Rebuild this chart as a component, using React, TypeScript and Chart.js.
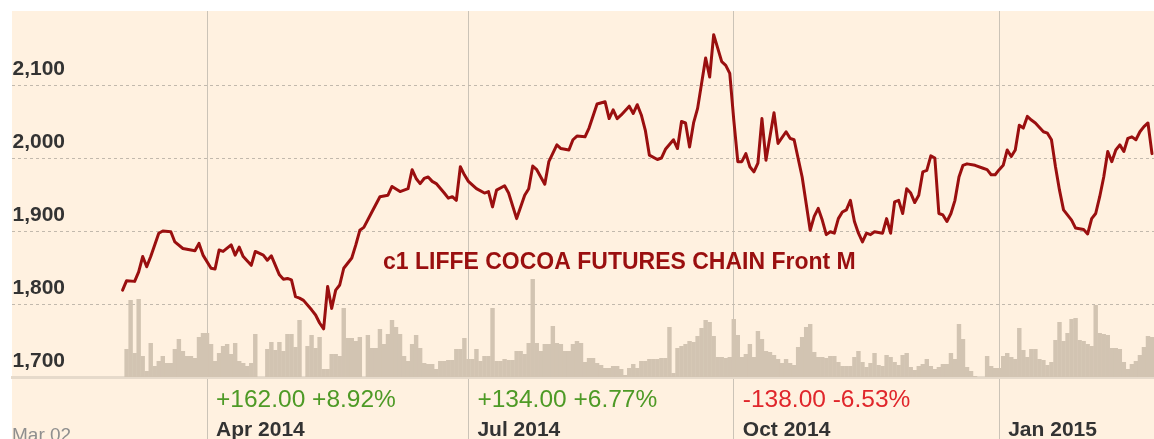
import React, { useEffect, useRef } from 'react';
import { Chart, registerables } from 'chart.js';

Chart.register(...registerables);

// ---- data ----
const firstDay = '2014-01-23';
const lastDay = '2015-02-24';

const priceDates = [
  '2014-03-03','2014-03-04','2014-03-06','2014-03-07','2014-03-10','2014-03-11','2014-03-12','2014-03-14','2014-03-17','2014-03-19',
  '2014-03-20','2014-03-24','2014-03-25','2014-03-27','2014-03-28','2014-03-31','2014-04-02','2014-04-03','2014-04-04','2014-04-07',
  '2014-04-09','2014-04-10','2014-04-11','2014-04-14','2014-04-16','2014-04-17','2014-04-21','2014-04-22','2014-04-23','2014-04-25',
  '2014-04-28','2014-04-29','2014-04-30','2014-05-01','2014-05-02','2014-05-05','2014-05-07','2014-05-08','2014-05-09','2014-05-12',
  '2014-05-13','2014-05-14','2014-05-15','2014-05-16','2014-05-19','2014-05-21','2014-05-22','2014-05-23','2014-05-26','2014-05-28',
  '2014-05-30','2014-06-03','2014-06-04','2014-06-06','2014-06-10','2014-06-11','2014-06-12','2014-06-13','2014-06-16','2014-06-17',
  '2014-06-18','2014-06-19','2014-06-23','2014-06-24','2014-06-25','2014-06-26','2014-06-27','2014-06-30','2014-07-01','2014-07-03',
  '2014-07-07','2014-07-08','2014-07-09','2014-07-10','2014-07-14','2014-07-15','2014-07-17','2014-07-21','2014-07-22','2014-07-23',
  '2014-07-24','2014-07-28','2014-07-29','2014-07-31','2014-08-01','2014-08-05','2014-08-06','2014-08-07','2014-08-11','2014-08-12',
  '2014-08-14','2014-08-18','2014-08-19','2014-08-20','2014-08-21','2014-08-22','2014-08-26','2014-08-27','2014-08-28','2014-08-29',
  '2014-09-01','2014-09-02','2014-09-04','2014-09-05','2014-09-08','2014-09-10','2014-09-11','2014-09-12','2014-09-15','2014-09-16',
  '2014-09-17','2014-09-18','2014-09-22','2014-09-23','2014-09-24','2014-09-26','2014-09-29','2014-09-30','2014-10-01','2014-10-02',
  '2014-10-03','2014-10-06','2014-10-07','2014-10-08','2014-10-09','2014-10-10','2014-10-13','2014-10-15','2014-10-16','2014-10-20',
  '2014-10-21','2014-10-22','2014-10-24','2014-10-28','2014-10-29','2014-10-30','2014-10-31','2014-11-03','2014-11-04','2014-11-05',
  '2014-11-06','2014-11-07','2014-11-10','2014-11-11','2014-11-12','2014-11-13','2014-11-14','2014-11-17','2014-11-18','2014-11-19',
  '2014-11-20','2014-11-21','2014-11-24','2014-11-25','2014-11-26','2014-11-27','2014-11-28','2014-12-01','2014-12-02','2014-12-03',
  '2014-12-04','2014-12-05','2014-12-08','2014-12-09','2014-12-10','2014-12-11','2014-12-12','2014-12-15','2014-12-16','2014-12-17',
  '2014-12-18','2014-12-19','2014-12-22','2014-12-24','2014-12-26','2014-12-29','2014-12-30','2014-12-31','2015-01-01','2015-01-02',
  '2015-01-05','2015-01-06','2015-01-07','2015-01-08','2015-01-09','2015-01-12','2015-01-13','2015-01-14','2015-01-16','2015-01-19',
  '2015-01-20','2015-01-21','2015-01-22','2015-01-23','2015-01-27','2015-01-28','2015-01-30','2015-02-02','2015-02-03','2015-02-04',
  '2015-02-05','2015-02-06','2015-02-09','2015-02-10','2015-02-11','2015-02-12','2015-02-13','2015-02-16','2015-02-17','2015-02-18',
  '2015-02-19','2015-02-20','2015-02-23','2015-02-24'
];

const priceValues = [
  1819,1832,1831,1844,1865,1851,1865,1897,1900,1899,
  1885,1876,1875,1873,1883,1867,1849,1848,1874,1872,
  1881,1867,1878,1865,1853,1872,1867,1860,1866,1840,
  1834,1835,1833,1810,1808,1805,1792,1785,1774,1766,
  1824,1794,1819,1826,1849,1863,1881,1901,1905,1926,
  1947,1949,1961,1954,1958,1984,1972,1965,1972,1974,
  1968,1965,1952,1945,1947,1942,1988,1977,1968,1958,
  1952,1954,1933,1956,1962,1952,1917,1949,1958,1989,
  1984,1964,1995,2018,2013,2011,2025,2030,2029,2041,
  2074,2077,2054,2066,2054,2059,2071,2061,2073,2059,
  2038,2004,1998,2000,2012,2025,2013,2050,2048,2015,
  2048,2068,2137,2111,2169,2132,2127,2116,2052,1995,
  1995,2006,1988,1981,1993,2054,1997,2062,2020,2036,
  2027,2025,1974,1901,1920,1931,1915,1895,1899,1897,
  1917,1926,1929,1942,1913,1897,1885,1897,1895,1899,
  1898,1897,1917,1897,1940,1942,1924,1958,1952,1939,
  1949,1981,1983,2003,2000,1924,1922,1913,1924,1942,
  1974,1990,1992,1990,1986,1984,1977,1977,1984,1990,
  2011,2002,2011,2045,2041,2057,2052,2048,2036,2034,
  2025,1988,1956,1929,1915,1904,1902,1896,1917,1924,
  1947,1974,2009,1995,2011,2018,2009,2027,2029,2025,
  2036,2043,2048,2006
];

// daily volume (hundreds of lots), one per weekday from volumeStart
const volumeStart = '2014-03-03';
const volumes = [
  0,28,77,24,78,21,6,34,11,16,21,14,14,28,38,26,21,21,19,40,
  44,44,33,16,24,31,33,23,34,16,14,11,14,43,0,0,28,35,27,35,
  26,43,43,30,57,0,31,42,29,40,8,8,23,23,21,69,39,39,36,40,
  0,42,29,29,48,33,43,57,50,43,21,16,33,42,29,14,13,13,8,16,
  16,17,17,28,28,39,18,18,28,16,21,21,69,16,16,18,17,17,26,26,
  23,34,98,34,26,33,33,51,34,33,26,26,33,36,34,15,19,19,14,12,
  9,9,11,11,8,2,9,13,9,16,16,18,18,18,19,19,50,4,29,31,
  33,36,35,41,49,57,55,41,20,20,19,20,58,42,20,23,33,20,46,38,
  26,25,22,18,14,18,14,12,30,40,50,53,25,20,20,19,21,21,15,11,
  11,11,20,26,15,10,14,24,12,11,22,20,15,12,22,24,10,7,11,13,
  18,11,8,10,13,13,24,18,53,38,10,6,1,0,0,21,11,9,9,21,
  24,20,18,49,27,20,28,28,18,17,12,15,37,55,36,44,58,59,37,36,
  33,31,72,44,43,42,29,29,28,15,8,13,16,22,30,41,40
];

const yTickValues = [1700, 1800, 1900, 2000, 2100];
const periodDates = ['2014-04-01', '2014-07-01', '2014-10-01', '2015-01-01'];
const periodLabels = ['Apr 2014', 'Jul 2014', 'Oct 2014', 'Jan 2015'];
const periodChanges = ['+162.00 +8.92%', '+134.00 +6.77%', '-138.00 -6.53%', ''];
const seriesName = 'c1 LIFFE COCOA FUTURES CHAIN Front M';
const startLabel = 'Mar 02';

// ---- styles ----
const FONT = '"Liberation Sans", Arial, Helvetica, sans-serif';
const LINE_RED = '#9a0f0f';
const BG = '#fff1e0';
const VOL = '#d2c4b2';
const GRID = '#cbc3b7';
const TEXT = '#333333';
const GREEN = '#4e9a26';
const RED = '#e0262b';

function weekdays(from: string, to: string): string[] {
  const out: string[] = [];
  const d = new Date(from + 'T00:00:00Z');
  const end = new Date(to + 'T00:00:00Z');
  while (d <= end) {
    const w = d.getUTCDay();
    if (w !== 0 && w !== 6) out.push(d.toISOString().slice(0, 10));
    d.setUTCDate(d.getUTCDate() + 1);
  }
  return out;
}

export default function App() {
  const ref = useRef<HTMLCanvasElement | null>(null);

  useEffect(() => {
    const canvas = ref.current;
    if (!canvas) return;
    const labels = weekdays(firstDay, lastDay);
    const volStartIdx = labels.indexOf(volumeStart);
    const volData = labels.map((_, i) => {
      const k = i - volStartIdx;
      return k >= 0 && k < volumes.length ? volumes[k] : null;
    });
    const priceData = priceDates.map((d, i) => ({ x: d, y: priceValues[i] }));
    const tickIdx = periodDates.map((d) => labels.indexOf(d));

    const bgPlugin = {
      id: 'bg',
      beforeDraw(chart: any) {
        const { ctx, width, height } = chart;
        ctx.save();
        ctx.fillStyle = '#ffffff';
        ctx.fillRect(0, 0, width, height);
        ctx.fillStyle = BG;
        ctx.fillRect(12, 11, width - 12, height - 11);
        ctx.restore();
      },
    };

    const textPlugin = {
      id: 'texts',
      afterDraw(chart: any) {
        const { ctx } = chart;
        const ys = chart.scales.y;
        const xs = chart.scales.x;
        ctx.save();
        ctx.textAlign = 'left';
        ctx.textBaseline = 'alphabetic';
        // y labels
        ctx.fillStyle = TEXT;
        ctx.font = `bold 21px ${FONT}`;
        ys.ticks.forEach((t: any) => {
          const py = ys.getPixelForValue(t.value);
          ctx.fillText(t.value.toLocaleString('en-US'), 12.5, py - 10.5);
        });
        // series name
        ctx.fillStyle = LINE_RED;
        ctx.font = `bold 23px ${FONT}`;
        ctx.fillText(seriesName, 383, 269);
        // period labels
        tickIdx.forEach((idx, i) => {
          const px = xs.getPixelForValue(idx) + 9;
          const ch = periodChanges[i];
          if (ch) {
            ctx.fillStyle = ch.startsWith('-') ? RED : GREEN;
            ctx.font = `24.5px ${FONT}`;
            ctx.fillText(ch, px, 407);
          }
          ctx.fillStyle = TEXT;
          ctx.font = `bold 21px ${FONT}`;
          ctx.fillText(periodLabels[i], px, 436);
        });
        ctx.fillStyle = '#8f8f8f';
        ctx.font = `19px ${FONT}`;
        ctx.fillText(startLabel, 12, 441);
        ctx.restore();
      },
    };

    const chart = new Chart(canvas, {
      type: 'bar',
      data: {
        labels,
        datasets: [
          {
            type: 'line',
            data: priceData as any,
            borderColor: LINE_RED,
            borderWidth: 3,
            pointRadius: 0,
            tension: 0,
            borderJoinStyle: 'round',
            borderCapStyle: 'round',
            yAxisID: 'y',
            order: 0,
          } as any,
          {
            type: 'bar',
            data: volData as any,
            backgroundColor: VOL,
            borderWidth: 0,
            barPercentage: 1.1,
            categoryPercentage: 1,
            yAxisID: 'yv',
            order: 1,
          } as any,
        ],
      },
      options: {
        animation: false,
        responsive: false,
        maintainAspectRatio: false,
        layout: { padding: { left: 12, top: 11, right: 0, bottom: 0 } },
        plugins: { legend: { display: false }, tooltip: { enabled: false } },
        scales: {
          x: {
            type: 'category',
            offset: true,
            grid: {
              offset: false,
              color: GRID,
              lineWidth: 1,
              drawTicks: true,
              tickLength: 62,
              tickColor: GRID,
              tickWidth: 1,
            },
            border: { display: true, color: '#e6dacb', width: 3 },
            ticks: { display: false },
            afterBuildTicks: (s: any) => {
              s.ticks = tickIdx.map((v) => ({ value: v }));
            },
          },
          y: {
            position: 'left',
            min: 1700,
            max: 2201.4,
            grid: { color: '#c2b9ad', lineWidth: 1, drawTicks: false },
            border: { display: false, dash: [3, 3] },
            ticks: { display: false },
            afterBuildTicks: (s: any) => {
              s.ticks = yTickValues.map((v) => ({ value: v }));
            },
          },
          yv: { display: false, min: 0, max: 366 },
        },
      } as any,
      plugins: [bgPlugin, textPlugin],
    });
    return () => chart.destroy();
  }, []);

  return (
    <div style={{ position: 'absolute', left: 0, top: 0, width: 1154, height: 439, overflow: 'hidden' }}>
      <canvas ref={ref} width={1154} height={439} style={{ display: 'block', width: 1154, height: 439 }} />
    </div>
  );
}
